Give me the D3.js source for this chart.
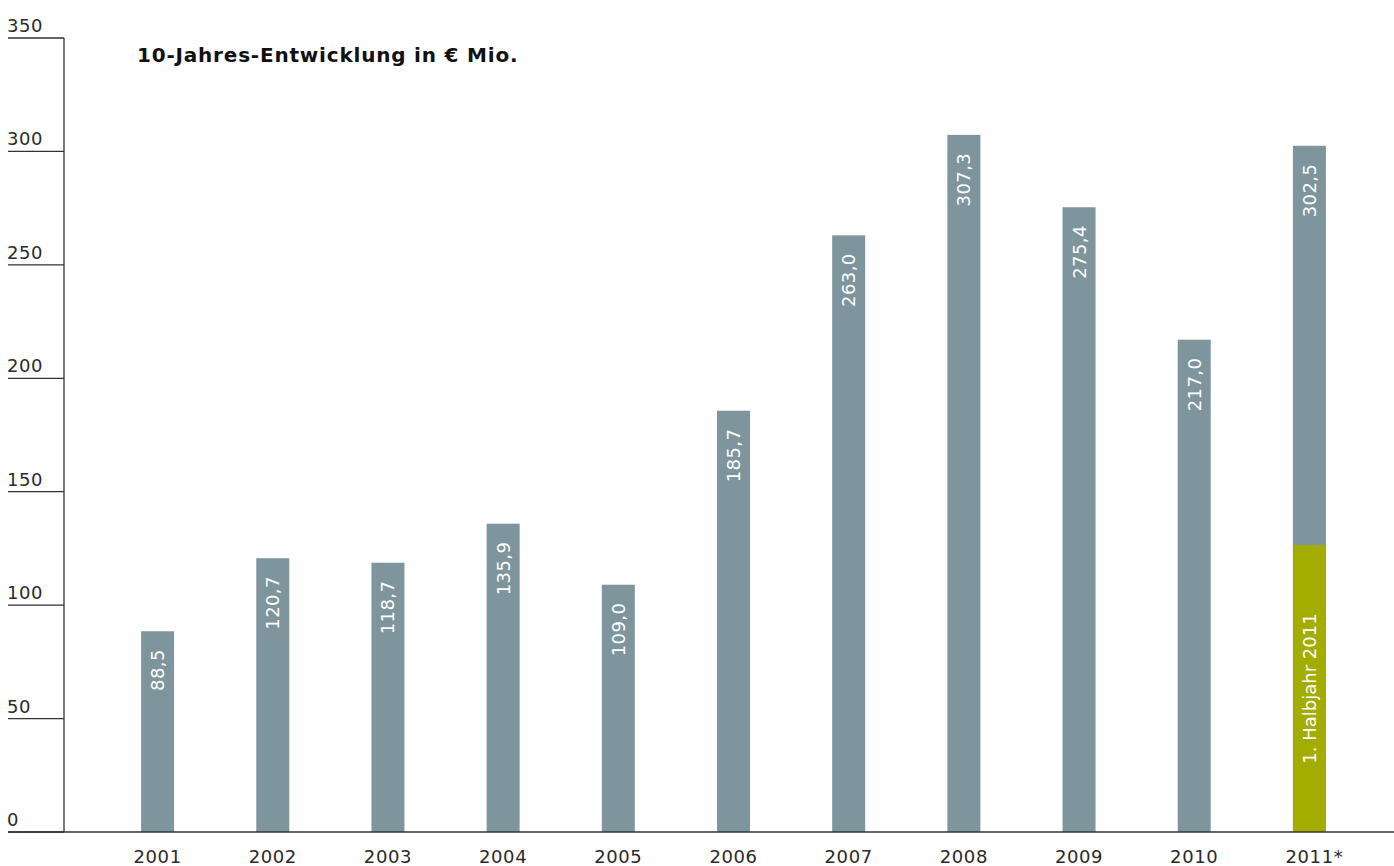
<!DOCTYPE html>
<html><head><meta charset="utf-8">
<script src="https://cdn.jsdelivr.net/npm/d3@7"></script>
<style>
html,body{margin:0;padding:0;background:#fff;}
svg{display:block;font-family:"DejaVu Sans",sans-serif;}
</style></head><body>
<svg id="chart" width="1394" height="866"></svg>
<script>
const years = ["2001","2002","2003","2004","2005","2006","2007","2008","2009","2010","2011*"];
const values = [88.5,120.7,118.7,135.9,109.0,185.7,263.0,307.3,275.4,217.0,302.5];
const halfYearValue = 126.5;
const halfYearLabel = "1. Halbjahr 2011";
const yTicks = [0,50,100,150,200,250,300,350];
const title = "10-Jahres-Entwicklung in € Mio.";

const svg = d3.select("#chart");
const y = d3.scaleLinear().domain([0,350]).range([832,38]);
const x = d3.scaleBand().domain(years).range([100,1367]).paddingInner(0.7135).paddingOuter(0.7135/2);
const grey = "#7e959d", green = "#a3ad00";
const fmt = v => d3.format(".1f")(v).replace(".", ",");

// y ticks
const tg = svg.append("g");
yTicks.forEach(t => {
  tg.append("line").attr("x1",8).attr("x2",64).attr("y1",y(t)).attr("y2",y(t))
    .attr("stroke","#333").attr("stroke-width",1.3);
  tg.append("text").attr("x",7).attr("y",y(t)-6).attr("font-size",18)
    .attr("letter-spacing",0.5).attr("fill","#2a2a2a").text(t);
});
// axis line
svg.append("line").attr("x1",64).attr("x2",64).attr("y1",y(350)).attr("y2",y(0))
  .attr("stroke","#333").attr("stroke-width",1.3);

// bars
svg.selectAll("rect.bar").data(years).join("rect").attr("class","bar")
  .attr("x",d=>x(d)).attr("width",x.bandwidth())
  .attr("y",(d,i)=>y(values[i])).attr("height",(d,i)=>y(0)-y(values[i]))
  .attr("fill",grey);
// half-year segment
const last = years[years.length-1];
svg.append("rect").attr("x",x(last)).attr("width",x.bandwidth())
  .attr("y",y(halfYearValue)).attr("height",y(0)-y(halfYearValue)).attr("fill",green);

// baseline
svg.append("line").attr("x1",8).attr("x2",1394).attr("y1",y(0)).attr("y2",y(0))
  .attr("stroke","#333").attr("stroke-width",1.3);

// value labels
svg.selectAll("text.val").data(years).join("text").attr("class","val")
  .attr("transform",(d,i)=>`translate(${x(d)+x.bandwidth()/2},${y(values[i])+18}) rotate(-90)`)
  .attr("text-anchor","end").attr("dy","0.36em").attr("font-size",18)
  .attr("letter-spacing",0.4).attr("fill","#fff")
  .text((d,i)=>fmt(values[i]));
svg.append("text")
  .attr("transform",`translate(${x(last)+x.bandwidth()/2},${(y(halfYearValue)+y(0))/2}) rotate(-90)`)
  .attr("text-anchor","middle").attr("dy","0.36em").attr("font-size",18).attr("fill","#fff")
  .text(halfYearLabel);

// x labels
svg.selectAll("text.xl").data(years).join("text").attr("class","xl")
  .attr("x",d=>x(d)+x.bandwidth()/2 + (d.endsWith("*")?5:0)).attr("y",863)
  .attr("text-anchor","middle").attr("font-size",18).attr("letter-spacing",0.6)
  .attr("fill","#2a2a2a").text(d=>d);

// title
svg.append("text").attr("x",137).attr("y",62).attr("font-size",20).attr("font-weight","bold")
  .attr("letter-spacing",0.8).attr("fill","#111").text(title);
</script>
</body></html>
